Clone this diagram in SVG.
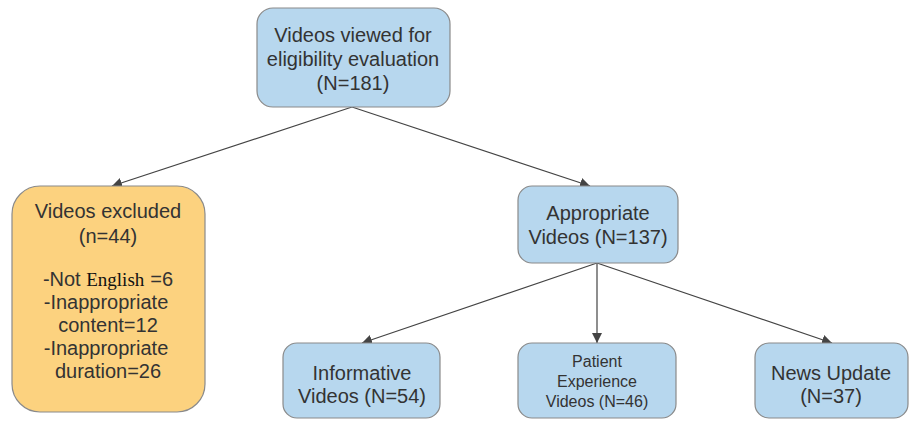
<svg xmlns="http://www.w3.org/2000/svg" width="910" height="421" viewBox="0 0 910 421">
<defs>
<style>
.blue{fill:#b7d7ee;stroke:#8a8a8a;stroke-width:1.2}
.orange{fill:#fcd27f;stroke:#8a8a8a;stroke-width:1.2}
.t{font-family:"Liberation Sans",Arial,sans-serif;font-size:20px;fill:#333;text-anchor:middle}
.s{font-size:16px}
.serif{font-family:"Liberation Serif","Times New Roman",serif;fill:#111;font-size:19px}
.c{stroke:#444;stroke-width:1.2;fill:none;marker-end:url(#ah)}
</style>
<marker id="ah" viewBox="0 0 10 10" refX="10" refY="5" markerWidth="10" markerHeight="10" orient="auto" markerUnits="userSpaceOnUse">
<path d="M0,0 L10,5 L0,10 z" fill="#444"/>
</marker>
</defs>
<rect width="910" height="421" fill="#fff"/>
<g id="connectors">
<line class="c" x1="352" y1="107" x2="112" y2="186"/>
<line class="c" x1="352" y1="107" x2="590" y2="186"/>
<line class="c" x1="597" y1="263" x2="362" y2="343"/>
<line class="c" x1="597" y1="263" x2="597" y2="343"/>
<line class="c" x1="597" y1="263" x2="832" y2="343"/>
</g>
<g id="n-top">
<rect class="blue" x="257" y="8" width="193" height="99" rx="16"/>
<text class="t" x="353" y="42">Videos viewed for</text>
<text class="t" x="353" y="66">eligibility evaluation</text>
<text class="t" x="353" y="90">(N=181)</text>
</g>
<g id="n-excluded">
<rect class="orange" x="12" y="186" width="193" height="226" rx="28"/>
<text class="t" x="108" y="218">Videos excluded</text>
<text class="t" x="108" y="243">(n=44)</text>
<text class="t" x="108" y="286">-Not <tspan class="serif">English</tspan><tspan dx="6">=6</tspan></text>
<text class="t" x="106" y="309">-Inappropriate</text>
<text class="t" x="108" y="332">content=12</text>
<text class="t" x="106" y="355">-Inappropriate</text>
<text class="t" x="108" y="378">duration=26</text>
</g>
<g id="n-appropriate">
<rect class="blue" x="518" y="186" width="160" height="77" rx="14"/>
<text class="t" x="598" y="220">Appropriate</text>
<text class="t" x="598" y="244">Videos (N=137)</text>
</g>
<g id="n-informative">
<rect class="blue" x="283" y="343" width="157" height="75" rx="14"/>
<text class="t" x="362" y="380">Informative</text>
<text class="t" x="362" y="403">Videos (N=54)</text>
</g>
<g id="n-patient">
<rect class="blue" x="518" y="343" width="158" height="75" rx="14"/>
<text class="t s" x="597" y="367">Patient</text>
<text class="t s" x="597" y="387">Experience</text>
<text class="t s" x="597" y="407">Videos (N=46)</text>
</g>
<g id="n-news">
<rect class="blue" x="755" y="343" width="153" height="75" rx="14"/>
<text class="t" x="831" y="380">News Update</text>
<text class="t" x="831" y="403">(N=37)</text>
</g>
</svg>
